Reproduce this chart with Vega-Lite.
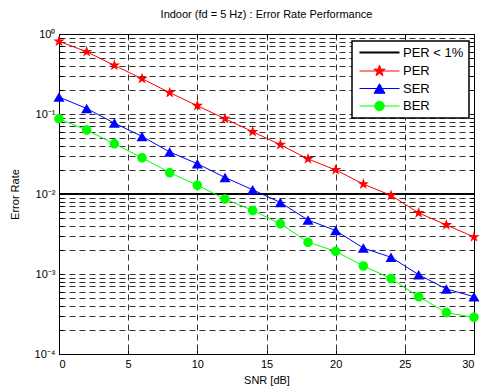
{
  "$schema": "https://vega.github.io/schema/vega-lite/v6.json",
  "width": 415,
  "height": 320,
  "autosize": "none",
  "padding": {"left": 59, "top": 34, "right": 10, "bottom": 33},
  "background": "white",
  "title": {"text": "Indoor (fd = 5 Hz) : Error Rate Performance", "fontSize": 11, "font": "Liberation Sans", "fontWeight": "normal", "offset": 8, "color": "black"},
  "config": {
    "view": {"stroke": "black", "strokeWidth": 1},
    "axis": {
      "gridDash": [6, 4],
      "gridColor": "#000000",
      "gridOpacity": 0.8,
      "gridWidth": 1,
      "tickSize": -4,
      "tickColor": "black",
      "domainColor": "black",
      "labelPadding": 8,
      "labelFont": "Liberation Sans",
      "labelFontSize": 11,
      "labelColor": "black",
      "titleFont": "Liberation Sans",
      "titleFontSize": 11,
      "titleFontWeight": "normal",
      "titleColor": "black"
    }
  },
  "data": {"values": [
    {"series": "PER < 1%", "snr": 0, "rate": 0.01},
    {"series": "PER < 1%", "snr": 30, "rate": 0.01},
    {"series": "PER", "snr": 0, "rate": 0.81},
    {"series": "PER", "snr": 2, "rate": 0.60},
    {"series": "PER", "snr": 4, "rate": 0.405},
    {"series": "PER", "snr": 6, "rate": 0.276},
    {"series": "PER", "snr": 8, "rate": 0.185},
    {"series": "PER", "snr": 10, "rate": 0.127},
    {"series": "PER", "snr": 12, "rate": 0.0873},
    {"series": "PER", "snr": 14, "rate": 0.060},
    {"series": "PER", "snr": 16, "rate": 0.0413},
    {"series": "PER", "snr": 18, "rate": 0.0274},
    {"series": "PER", "snr": 20, "rate": 0.020},
    {"series": "PER", "snr": 22, "rate": 0.0133},
    {"series": "PER", "snr": 24, "rate": 0.0096},
    {"series": "PER", "snr": 26, "rate": 0.0058},
    {"series": "PER", "snr": 28, "rate": 0.0041},
    {"series": "PER", "snr": 30, "rate": 0.0029},
    {"series": "SER", "snr": 0, "rate": 0.163},
    {"series": "SER", "snr": 2, "rate": 0.117},
    {"series": "SER", "snr": 4, "rate": 0.077},
    {"series": "SER", "snr": 6, "rate": 0.0525},
    {"series": "SER", "snr": 8, "rate": 0.0335},
    {"series": "SER", "snr": 10, "rate": 0.0239},
    {"series": "SER", "snr": 12, "rate": 0.0161},
    {"series": "SER", "snr": 14, "rate": 0.0113},
    {"series": "SER", "snr": 16, "rate": 0.00785},
    {"series": "SER", "snr": 18, "rate": 0.00473},
    {"series": "SER", "snr": 20, "rate": 0.0035},
    {"series": "SER", "snr": 22, "rate": 0.00211},
    {"series": "SER", "snr": 24, "rate": 0.00162},
    {"series": "SER", "snr": 26, "rate": 0.00098},
    {"series": "SER", "snr": 28, "rate": 0.00065},
    {"series": "SER", "snr": 30, "rate": 0.00052},
    {"series": "BER", "snr": 0, "rate": 0.0873},
    {"series": "BER", "snr": 2, "rate": 0.063},
    {"series": "BER", "snr": 4, "rate": 0.0425},
    {"series": "BER", "snr": 6, "rate": 0.0284},
    {"series": "BER", "snr": 8, "rate": 0.0185},
    {"series": "BER", "snr": 10, "rate": 0.0129},
    {"series": "BER", "snr": 12, "rate": 0.00865},
    {"series": "BER", "snr": 14, "rate": 0.00624},
    {"series": "BER", "snr": 16, "rate": 0.00425},
    {"series": "BER", "snr": 18, "rate": 0.0025},
    {"series": "BER", "snr": 20, "rate": 0.00192},
    {"series": "BER", "snr": 22, "rate": 0.00126},
    {"series": "BER", "snr": 24, "rate": 0.00088},
    {"series": "BER", "snr": 26, "rate": 0.00052},
    {"series": "BER", "snr": 28, "rate": 0.00033},
    {"series": "BER", "snr": 30, "rate": 0.000287}
  ]},
  "encoding": {
    "x": {
      "field": "snr", "type": "quantitative",
      "scale": {"domain": [0, 30], "nice": false, "zero": false},
      "axis": {"orient": "bottom", "grid": true, "values": [0, 5, 10, 15, 20, 25, 30], "title": "SNR [dB]", "titlePadding": 5}
    },
    "y": {
      "field": "rate", "type": "quantitative",
      "scale": {"type": "log", "domain": [0.0001, 1], "nice": false},
      "axis": {
        "orient": "left",
        "grid": true,
        "values": [0.0001, 0.0002, 0.0003, 0.0004, 0.0005, 0.0006, 0.0007, 0.0008, 0.0009, 0.001, 0.002, 0.003, 0.004, 0.005, 0.006, 0.007, 0.008, 0.009, 0.01, 0.02, 0.03, 0.04, 0.05, 0.06, 0.07, 0.08, 0.09, 0.1, 0.2, 0.3, 0.4, 0.5, 0.6, 0.7, 0.8, 0.9, 1],
        "labelExpr": "indexof([1, 0.1, 0.01, 0.001, 0.0001], datum.value) >= 0 ? ['10⁰', '10⁻¹', '10⁻²', '10⁻³', '10⁻⁴'][indexof([1, 0.1, 0.01, 0.001, 0.0001], datum.value)] : ''",
        "title": "Error Rate",
        "titlePadding": 14
      }
    },
    "color": {
      "field": "series", "type": "nominal",
      "scale": {"domain": ["PER < 1%", "PER", "SER", "BER"], "range": ["#000000", "#ff0000", "#0000ff", "#00ff00"]},
      "legend": {
        "orient": "none",
        "legendX": 293,
        "legendY": 7,
        "title": null,
        "fillColor": "white",
        "strokeColor": "black",
        "padding": 5,
        "labelFont": "Liberation Sans",
        "labelFontSize": 13,
        "labelColor": "black",
        "symbolSize": 100,
        "symbolOffset": 16,
        "labelOffset": 17,
        "rowPadding": 2.5,
        "symbolOpacity": 1,
        "symbolStrokeWidth": 1,
        "encode": {
          "legend": {"update": {"strokeWidth": {"value": 1.5}}},
          "symbols": {"update": {
            "shape": {"signal": "datum.value === 'PER' ? 'M-4,0H4M0,-1.2L0.269,-0.371L1.141,-0.371L0.436,0.142L0.706,0.971L0,0.458L-0.706,0.971L-0.436,0.142L-1.141,-0.371L-0.269,-0.371Z' : datum.value === 'SER' ? 'M-4,0H4M0,-0.95L1.1,0.95L-1.1,0.95Z' : datum.value === 'BER' ? 'M-4,0H4M0.95,0A0.95,0.95,0,1,1,-0.95,0A0.95,0.95,0,1,1,0.95,0Z' : 'M-4,0H4'"},
            "size": {"value": 100},
            "fill": {"signal": "scale('color', datum.value)"},
            "stroke": {"signal": "scale('color', datum.value)"},
            "strokeWidth": {"signal": "datum.value === 'PER < 1%' ? 2 : 1"},
            "strokeOpacity": {"value": 1},
            "fillOpacity": {"value": 1},
            "opacity": {"value": 1}
          }}
        }
      }
    }
  },
  "resolve": {"axis": {"x": "independent", "y": "independent"}},
  "layer": [
    {
      "transform": [{"filter": "datum.series === 'PER < 1%'"}],
      "mark": {"type": "line", "strokeWidth": 2}
    },
    {
      "transform": [{"filter": "datum.series !== 'PER < 1%'"}],
      "mark": {"type": "line", "strokeWidth": 1},
      "encoding": {
        "x": {"field": "snr", "type": "quantitative", "axis": {"orient": "top", "grid": false, "labels": false, "domain": false, "title": null, "values": [0, 5, 10, 15, 20, 25, 30]}},
        "y": {"field": "rate", "type": "quantitative", "axis": {"orient": "right", "grid": false, "labels": false, "domain": false, "title": null, "values": [0.0001, 0.0002, 0.0003, 0.0004, 0.0005, 0.0006, 0.0007, 0.0008, 0.0009, 0.001, 0.002, 0.003, 0.004, 0.005, 0.006, 0.007, 0.008, 0.009, 0.01, 0.02, 0.03, 0.04, 0.05, 0.06, 0.07, 0.08, 0.09, 0.1, 0.2, 0.3, 0.4, 0.5, 0.6, 0.7, 0.8, 0.9, 1]}}
      }
    },
    {
      "transform": [{"filter": "datum.series === 'PER'"}],
      "mark": {"type": "point", "filled": true, "opacity": 1, "size": 100, "shape": "M0,-1.2L0.269,-0.371L1.141,-0.371L0.436,0.142L0.706,0.971L0,0.458L-0.706,0.971L-0.436,0.142L-1.141,-0.371L-0.269,-0.371Z"},
      "encoding": {
        "x": {"field": "snr", "type": "quantitative", "axis": null},
        "y": {"field": "rate", "type": "quantitative", "axis": null}
      }
    },
    {
      "transform": [{"filter": "datum.series === 'SER'"}],
      "mark": {"type": "point", "filled": true, "opacity": 1, "size": 100, "shape": "M0,-0.95L1.1,0.95L-1.1,0.95Z"},
      "encoding": {
        "x": {"field": "snr", "type": "quantitative", "axis": null},
        "y": {"field": "rate", "type": "quantitative", "axis": null}
      }
    },
    {
      "transform": [{"filter": "datum.series === 'BER'"}],
      "mark": {"type": "point", "filled": true, "opacity": 1, "size": 100, "shape": "M0.95,0A0.95,0.95,0,1,1,-0.95,0A0.95,0.95,0,1,1,0.95,0Z"},
      "encoding": {
        "x": {"field": "snr", "type": "quantitative", "axis": null},
        "y": {"field": "rate", "type": "quantitative", "axis": null}
      }
    }
  ]
}
